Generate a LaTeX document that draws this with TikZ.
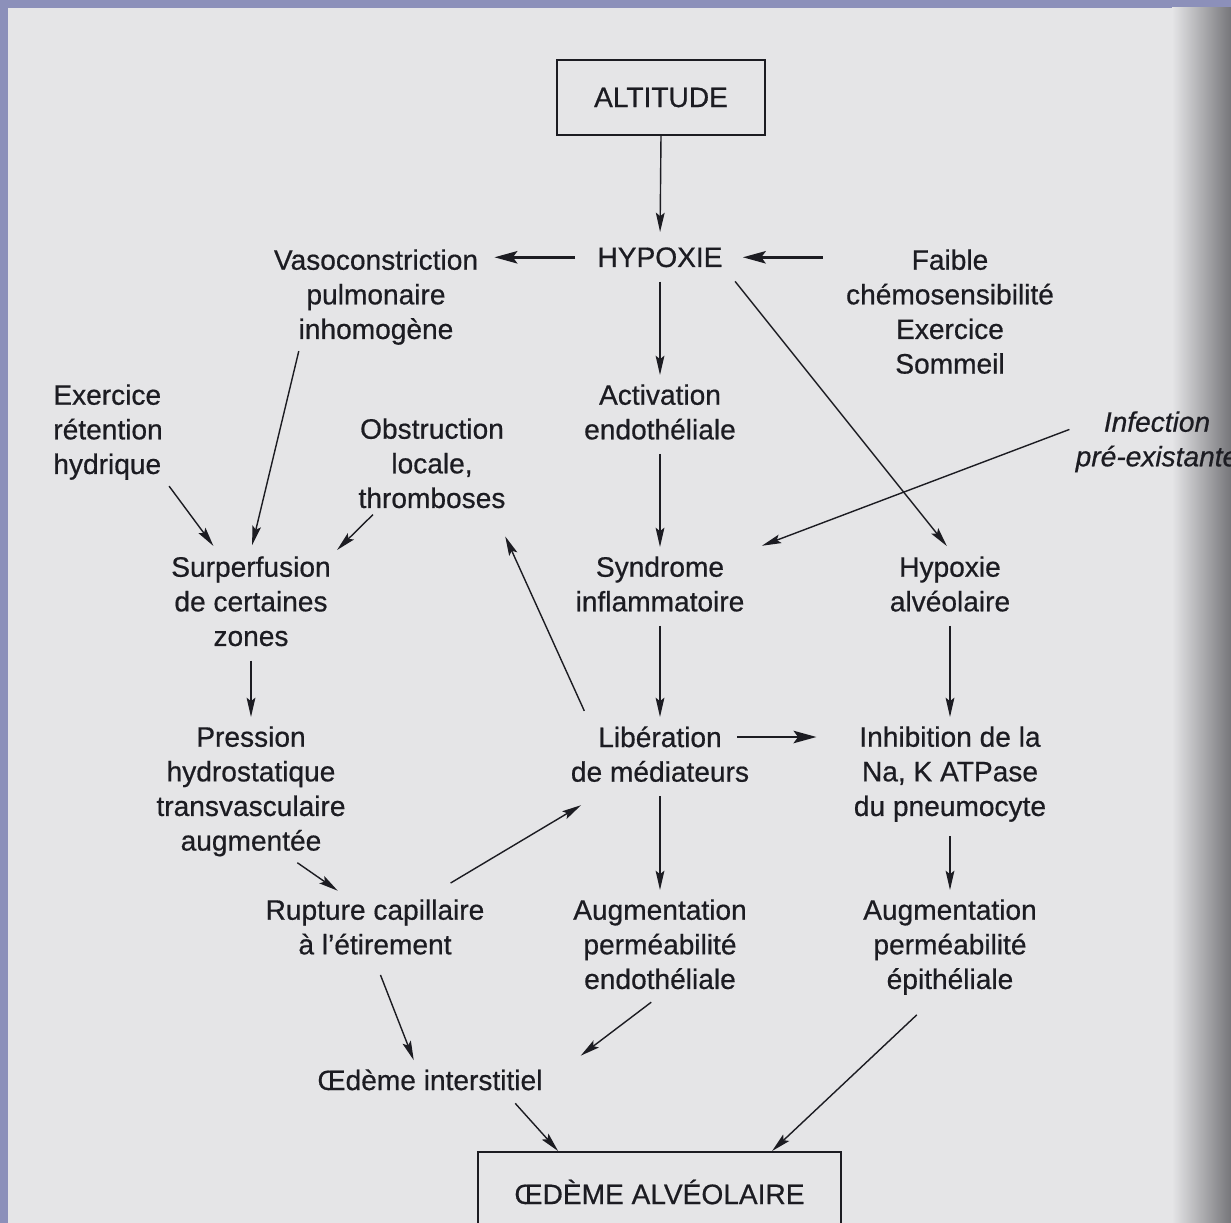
\documentclass[tikz,border=0pt]{standalone}
\usepackage{fontspec}
\setmainfont{Liberation Sans}[RawFeature={embolden=0.6}]
\usepackage{xcolor}
\usepackage{tikz}
\usetikzlibrary{arrows.meta, calc}

\definecolor{ink}{RGB}{28,28,34}
\definecolor{pagegray}{RGB}{229,229,231}
\definecolor{edgegray}{RGB}{118,118,122}
\definecolor{frameblue}{RGB}{140,144,186}

\begin{document}
\begin{tikzpicture}[
        x=0.02cm, y=-0.02cm,
        flow label/.style={
                align=center,
                anchor=north,
                inner sep=0.12cm,
                text=ink,
                font=\fontsize{16pt}{19.7pt}\selectfont
            },
        flow box/.style={
                draw=ink,
                line width=1.1pt,
                inner sep=0pt,
                text=ink,
                font=\fontsize{16pt}{19.7pt}\selectfont
            },
        link/.style={
                draw=ink,
                line width=0.8pt,
                -{Stealth[length=11pt, width=5pt, inset=2pt]}
            },
        thick link/.style={
                link,
                line width=1.7pt,
                -{Stealth[length=13pt, width=7pt, inset=2.5pt]}
            }
    ]

    % Page
    \useasboundingbox (0,0) rectangle (1231,1223);
    \fill[frameblue] (0,0) rectangle (1231,1223);
    \fill[pagegray] (8,8) rectangle (1231,1223);
    \shade[left color=pagegray, right color=edgegray] (1172,8) rectangle (1231,1223);

    % Top
    \node[flow box, minimum width=4.16cm, minimum height=1.5cm] (altitude) at (661,97.5) {ALTITUDE};
    \node[flow label] (hypoxie) at (660,241) {HYPOXIE};
    \node[flow label] (vaso) at (376,243) {Vasoconstriction\\pulmonaire\\inhomogène};
    \node[flow label] (faible) at (950,243) {Faible\\chémosensibilité\\Exercice\\Sommeil};

    % Causes
    \node[flow label, align=left, anchor=north west] (exercice) at (47,378) {Exercice\\rétention\\hydrique};
    \node[flow label] (activation) at (660,378) {Activation\\endothéliale};
    \node[flow label] (obstruction) at (432,412) {Obstruction\\locale,\\thromboses};
    \node[flow label, font=\fontsize{16pt}{19.7pt}\selectfont\itshape] (infection) at (1157,405) {Infection\\pré-existante};

    % Middle rows
    \node[flow label] (surperfusion) at (251,550) {Surperfusion\\de certaines\\zones};
    \node[flow label] (syndrome) at (660,550) {Syndrome\\inflammatoire};
    \node[flow label] (hypalv) at (950,550) {Hypoxie\\alvéolaire};
    \node[flow label] (pression) at (251,720) {Pression\\hydrostatique\\transvasculaire\\augmentée};
    \node[flow label] (liberation) at (660,720) {Libération\\de médiateurs};
    \node[flow label] (inhibition) at (950,720) {Inhibition de la\\Na, K ATPase\\du pneumocyte};

    % Bottom
    \node[flow label] (rupture) at (375,893) {Rupture capillaire\\à l’étirement};
    \node[flow label] (augendo) at (660,893) {Augmentation\\perméabilité\\endothéliale};
    \node[flow label] (augepi) at (950,893) {Augmentation\\perméabilité\\épithéliale};
    \node[flow label] (oedint) at (430,1063) {Œdème interstitiel};
    \node[flow box, minimum width=7.26cm, minimum height=1.6cm] (oedalv) at (659.5,1192) {ŒDÈME ALVÉOLAIRE};

    % Arrows down the columns
    \draw[link, shorten >=0.18cm] (altitude.south) -- (hypoxie.north);
    \foreach \a/\b in {hypoxie/activation, activation/syndrome, syndrome/liberation,
            hypalv/inhibition, surperfusion/pression, liberation/augendo, inhibition/augepi} {
            \draw[link, shorten <=0.16cm, shorten >=0.06cm] (\a.south) -- (\b.north);
        }

    % Side arrows
    \draw[thick link, shorten <=0.32cm, shorten >=0.2cm] (hypoxie.west) -- (hypoxie.west -| vaso.east);
    \draw[thick link, shorten >=0.28cm] ($(hypoxie.east -| faible.west)+(-17,0)$) -- (hypoxie.east);
    \draw[thick link] ($(liberation.north east)+(-18,17)$) -- ($(inhibition.north west)+(-31,17)$);

    % Diagonal arrows
    \draw[link, shorten <=0.2cm, shorten >=0.1cm] (hypoxie.south east) -- (hypalv.north);
    \draw[link, shorten >=0.1cm] (vaso.-145) -- (surperfusion.north);
    \draw[link, shorten >=0.1cm] (exercice.south east) -- (surperfusion.124);
    \draw[link] (obstruction.-139) -- (surperfusion.north east);
    \draw[link, shorten >=0.24cm] (infection.172) -- (syndrome.north east);
    \draw[link, shorten <=0.2cm, shorten >=0.48cm] ($(liberation.north west)!0.25!(liberation.north)$) -- (obstruction.-39);
    \draw[link, shorten <=0.39cm, shorten >=0.66cm] (rupture.30) -- (liberation.-146);
    \draw[link, shorten >=0.08cm] (pression.-57) -- (rupture.135);
    \draw[link, shorten <=0.3cm, shorten >=0.06cm] (rupture.south) -- (oedint.132);
    \draw[link, shorten <=0.22cm, shorten >=0.8cm] (augendo.south) -- (oedint.east);
    \draw[link, shorten <=0.18cm] (oedint.-12) -- (oedalv.158);
    \draw[link, shorten <=0.4cm] (augepi.-109) -- (oedalv.20);

\end{tikzpicture}
\end{document}
